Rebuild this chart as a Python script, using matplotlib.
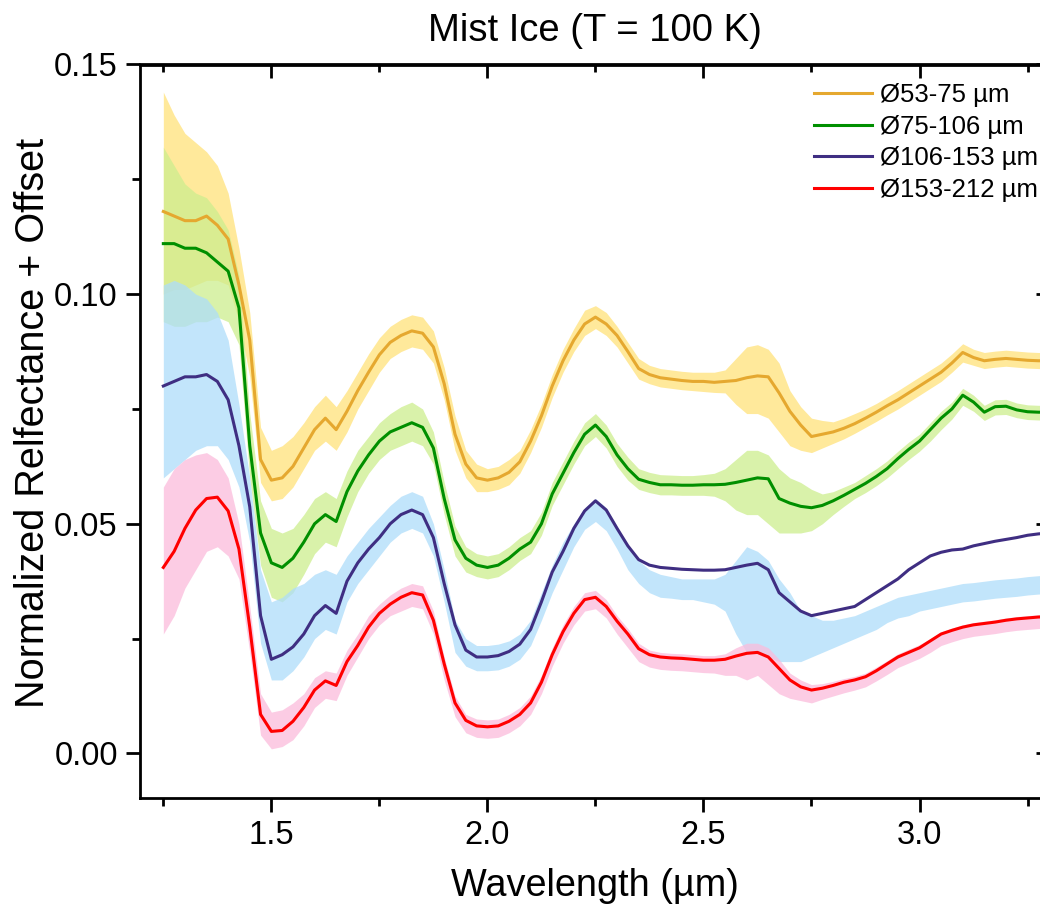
import numpy as np
import matplotlib
matplotlib.use("Agg")
import matplotlib.pyplot as plt
from matplotlib.ticker import MultipleLocator, FixedLocator

plt.rcParams['font.family'] = ['Liberation Sans', 'DejaVu Sans']

# Wavelength grid (µm)
wavelength = np.round(np.arange(1.25, 3.3001, 0.025), 3)

labels = ["Ø53-75 µm", "Ø75-106 µm", "Ø106-153 µm", "Ø153-212 µm"]

# Smoothed spectra (normalized reflectance + offset)
refl_53_75 = [
    0.118, 0.117, 0.116, 0.116, 0.117, 0.115, 0.112, 0.102, 0.090, 0.064,
    0.0595, 0.060, 0.0625, 0.0665, 0.0705, 0.073, 0.0705, 0.0745, 0.079, 0.083,
    0.0868, 0.0895, 0.091, 0.092, 0.0915, 0.0885, 0.0805, 0.0695, 0.063, 0.060,
    0.0595, 0.060, 0.0612, 0.0635, 0.068, 0.0735, 0.080, 0.0855, 0.090, 0.0935,
    0.095, 0.0935, 0.091, 0.0875, 0.0838, 0.0825, 0.0818, 0.0815, 0.0812, 0.081,
    0.081, 0.0808, 0.081, 0.0812, 0.0818, 0.0822, 0.082, 0.0785, 0.0745, 0.0715,
    0.069, 0.0695, 0.070, 0.0708, 0.0718, 0.073, 0.0743, 0.0757, 0.077, 0.0785,
    0.080, 0.0815, 0.083, 0.085, 0.0873, 0.0862, 0.0855, 0.0858, 0.086, 0.0858,
    0.0856, 0.0855, 0.0855]
refl_75_106 = [
    0.111, 0.111, 0.110, 0.110, 0.109, 0.107, 0.105, 0.097, 0.067, 0.048,
    0.0415, 0.0405, 0.0425, 0.046, 0.050, 0.052, 0.0505, 0.057, 0.0615, 0.065,
    0.068, 0.070, 0.071, 0.072, 0.071, 0.0665, 0.0555, 0.0465, 0.0425, 0.041,
    0.0405, 0.041, 0.0425, 0.0445, 0.046, 0.050, 0.0565, 0.061, 0.0655, 0.0695,
    0.0715, 0.069, 0.065, 0.062, 0.0597, 0.059, 0.0585, 0.0585, 0.0584, 0.0584,
    0.0585, 0.0585, 0.0586, 0.059, 0.0595, 0.060, 0.0598, 0.0555, 0.0545, 0.0538,
    0.0535, 0.054, 0.055, 0.0562, 0.0575, 0.0588, 0.0603, 0.062, 0.0642, 0.0662,
    0.068, 0.0705, 0.073, 0.075, 0.078, 0.0765, 0.0743, 0.0755, 0.0756, 0.0748,
    0.0744, 0.0743, 0.0743]
refl_106_153 = [
    0.080, 0.081, 0.082, 0.082, 0.0825, 0.081, 0.077, 0.067, 0.0537, 0.030,
    0.0205, 0.0215, 0.0232, 0.026, 0.030, 0.0322, 0.0305, 0.0375, 0.0415, 0.0445,
    0.047, 0.050, 0.052, 0.053, 0.052, 0.047, 0.037, 0.028, 0.0225, 0.021,
    0.021, 0.0213, 0.0222, 0.0238, 0.027, 0.033, 0.0395, 0.044, 0.049, 0.0528,
    0.055, 0.053, 0.049, 0.0452, 0.0422, 0.041, 0.0405, 0.0403, 0.0401, 0.040,
    0.0399, 0.0399, 0.040, 0.0405, 0.041, 0.0414, 0.040, 0.035, 0.033, 0.031,
    0.030, 0.0305, 0.031, 0.0315, 0.032, 0.0335, 0.035, 0.0365, 0.038, 0.040,
    0.0415, 0.043, 0.0438, 0.0443, 0.0445, 0.0452, 0.0457, 0.0462, 0.0466, 0.047,
    0.0475, 0.0478, 0.048]
refl_153_212 = [
    0.0405, 0.044, 0.049, 0.053, 0.0555, 0.0558, 0.0528, 0.0445, 0.0275, 0.0085,
    0.0048, 0.005, 0.007, 0.010, 0.0138, 0.0158, 0.0148, 0.020, 0.0235, 0.0275,
    0.0305, 0.0325, 0.034, 0.035, 0.0345, 0.029, 0.0195, 0.011, 0.0072, 0.006,
    0.0058, 0.006, 0.007, 0.0085, 0.011, 0.0155, 0.0215, 0.0265, 0.0305, 0.0335,
    0.034, 0.032, 0.0288, 0.026, 0.0228, 0.0215, 0.021, 0.0208, 0.0207, 0.0205,
    0.0203, 0.0203, 0.0205, 0.0212, 0.0218, 0.022, 0.021, 0.0185, 0.016, 0.0145,
    0.0138, 0.0142, 0.0148, 0.0155, 0.016, 0.0167, 0.018, 0.0195, 0.021, 0.022,
    0.023, 0.0245, 0.026, 0.0268, 0.0275, 0.028, 0.0283, 0.0286, 0.029, 0.0293,
    0.0295, 0.0297, 0.0298]

# Raw-spectrum envelopes (lower / upper)
raw_lo_53_75 = [
    0.100, 0.101, 0.101, 0.102, 0.103, 0.103, 0.102, 0.094, 0.082, 0.059,
    0.055, 0.0555, 0.058, 0.062, 0.066, 0.068, 0.066, 0.070, 0.075, 0.079,
    0.083, 0.086, 0.0875, 0.0885, 0.088, 0.085, 0.077, 0.066, 0.060, 0.057,
    0.057, 0.0575, 0.0585, 0.061, 0.0655, 0.071, 0.0775, 0.083, 0.0875, 0.091,
    0.0925, 0.091, 0.0885, 0.085, 0.0815, 0.0805, 0.0798, 0.0795, 0.0792, 0.079,
    0.0788, 0.0786, 0.0785, 0.076, 0.074, 0.074, 0.073, 0.070, 0.067, 0.066,
    0.0655, 0.0665, 0.0675, 0.0685, 0.0697, 0.071, 0.0723, 0.0737, 0.075, 0.0765,
    0.078, 0.0795, 0.081, 0.083, 0.0852, 0.0845, 0.0838, 0.0841, 0.0843, 0.0841,
    0.0839, 0.0838, 0.0838]
raw_hi_53_75 = [
    0.144, 0.139, 0.135, 0.133, 0.131, 0.128, 0.122, 0.110, 0.096, 0.071,
    0.066, 0.067, 0.069, 0.072, 0.0755, 0.078, 0.0755, 0.079, 0.083, 0.087,
    0.0905, 0.093, 0.0945, 0.0955, 0.095, 0.092, 0.084, 0.0735, 0.066, 0.063,
    0.062, 0.0625, 0.064, 0.066, 0.0705, 0.076, 0.0825, 0.088, 0.0925, 0.0965,
    0.0975, 0.096, 0.093, 0.0895, 0.086, 0.0845, 0.0838, 0.0835, 0.0832, 0.083,
    0.083, 0.083, 0.0835, 0.086, 0.0885, 0.089, 0.088, 0.085, 0.079, 0.0755,
    0.073, 0.0725, 0.0722, 0.073, 0.074, 0.075, 0.0762, 0.0776, 0.079, 0.0805,
    0.082, 0.0835, 0.085, 0.087, 0.0892, 0.088, 0.0873, 0.0876, 0.0878, 0.0876,
    0.0874, 0.0873, 0.0873]
raw_lo_75_106 = [
    0.094, 0.093, 0.093, 0.094, 0.094, 0.095, 0.094, 0.089, 0.060, 0.041,
    0.034, 0.033, 0.035, 0.039, 0.0435, 0.046, 0.045, 0.0515, 0.057, 0.061,
    0.064, 0.066, 0.067, 0.068, 0.067, 0.063, 0.052, 0.043, 0.0395, 0.0385,
    0.038, 0.0385, 0.040, 0.042, 0.0435, 0.0475, 0.054, 0.0585, 0.063, 0.067,
    0.069, 0.0665, 0.0625, 0.0595, 0.0575, 0.0568, 0.0563, 0.0563, 0.0562, 0.0562,
    0.0562, 0.056, 0.055, 0.053, 0.052, 0.052, 0.050, 0.048, 0.048, 0.048,
    0.0485, 0.050, 0.052, 0.0538, 0.0555, 0.0568, 0.0583, 0.060, 0.062, 0.064,
    0.0658, 0.068, 0.0705, 0.0728, 0.0758, 0.0745, 0.0725, 0.0737, 0.0738, 0.0731,
    0.0727, 0.0726, 0.0726]
raw_hi_75_106 = [
    0.132, 0.128, 0.124, 0.122, 0.121, 0.118, 0.114, 0.104, 0.074, 0.055,
    0.049, 0.048, 0.049, 0.052, 0.0555, 0.057, 0.0555, 0.0615, 0.066, 0.069,
    0.072, 0.074, 0.0755, 0.0765, 0.075, 0.070, 0.059, 0.0495, 0.045, 0.0435,
    0.043, 0.0435, 0.045, 0.047, 0.0485, 0.0525, 0.059, 0.0635, 0.068, 0.072,
    0.074, 0.0715, 0.0675, 0.0645, 0.062, 0.0612, 0.0607, 0.0606, 0.0605, 0.0605,
    0.0607, 0.061, 0.062, 0.064, 0.066, 0.066, 0.065, 0.062, 0.060, 0.059,
    0.0575, 0.0565, 0.057, 0.058, 0.059, 0.0605, 0.062, 0.0637, 0.0658, 0.0678,
    0.0695, 0.072, 0.0745, 0.0765, 0.0795, 0.078, 0.0758, 0.077, 0.0771, 0.0763,
    0.0759, 0.0758, 0.0758]
raw_lo_106_153 = [
    0.060, 0.062, 0.064, 0.066, 0.067, 0.067, 0.064, 0.058, 0.046, 0.024,
    0.016, 0.016, 0.018, 0.021, 0.025, 0.027, 0.026, 0.033, 0.037, 0.040,
    0.043, 0.046, 0.048, 0.049, 0.048, 0.043, 0.033, 0.022, 0.019, 0.018,
    0.018, 0.0182, 0.019, 0.0205, 0.0235, 0.029, 0.035, 0.040, 0.045, 0.0488,
    0.0505, 0.0485, 0.0445, 0.040, 0.037, 0.035, 0.034, 0.0338, 0.0335, 0.0335,
    0.033, 0.0325, 0.031, 0.026, 0.022, 0.022, 0.021, 0.020, 0.020, 0.020,
    0.021, 0.022, 0.023, 0.024, 0.025, 0.026, 0.027, 0.0285, 0.0295, 0.030,
    0.031, 0.0315, 0.032, 0.0325, 0.033, 0.0332, 0.0335, 0.0338, 0.034, 0.0342,
    0.0345, 0.0347, 0.0348]
raw_hi_106_153 = [
    0.102, 0.103, 0.102, 0.100, 0.099, 0.096, 0.090, 0.076, 0.060, 0.040,
    0.033, 0.034, 0.036, 0.037, 0.039, 0.040, 0.039, 0.043, 0.046, 0.049,
    0.0515, 0.054, 0.056, 0.057, 0.056, 0.050, 0.040, 0.029, 0.025, 0.0235,
    0.0235, 0.0238, 0.0245, 0.026, 0.029, 0.035, 0.041, 0.046, 0.050, 0.0535,
    0.0555, 0.0535, 0.0495, 0.0455, 0.042, 0.040, 0.039, 0.0385, 0.038, 0.038,
    0.038, 0.038, 0.039, 0.042, 0.045, 0.044, 0.042, 0.038, 0.035, 0.031,
    0.030, 0.029, 0.029, 0.0295, 0.030, 0.031, 0.032, 0.033, 0.034, 0.0345,
    0.035, 0.0355, 0.036, 0.0365, 0.037, 0.0372, 0.0375, 0.0378, 0.038, 0.0382,
    0.0385, 0.0387, 0.0388]
raw_lo_153_212 = [
    0.026, 0.030, 0.036, 0.040, 0.044, 0.045, 0.043, 0.038, 0.022, 0.004,
    0.001, 0.0015, 0.003, 0.006, 0.010, 0.012, 0.0115, 0.017, 0.021, 0.025,
    0.028, 0.030, 0.031, 0.032, 0.0315, 0.026, 0.016, 0.008, 0.0045, 0.0035,
    0.0033, 0.0035, 0.0045, 0.006, 0.0085, 0.013, 0.019, 0.024, 0.028, 0.031,
    0.0315, 0.0295, 0.026, 0.023, 0.020, 0.0188, 0.0183, 0.0181, 0.018, 0.0178,
    0.0176, 0.0175, 0.017, 0.017, 0.016, 0.017, 0.015, 0.013, 0.012, 0.0115,
    0.011, 0.0118, 0.0125, 0.0132, 0.0138, 0.0145, 0.0158, 0.0172, 0.0187, 0.0197,
    0.0207, 0.022, 0.0235, 0.0243, 0.025, 0.0255, 0.0258, 0.0261, 0.0265, 0.0268,
    0.027, 0.0272, 0.0273]
raw_hi_153_212 = [
    0.058, 0.062, 0.064, 0.065, 0.0655, 0.064, 0.060, 0.050, 0.032, 0.013,
    0.009, 0.0095, 0.011, 0.013, 0.0165, 0.018, 0.0175, 0.0225, 0.026, 0.030,
    0.0325, 0.0345, 0.036, 0.037, 0.0365, 0.031, 0.021, 0.0125, 0.0085, 0.0075,
    0.0073, 0.0075, 0.0085, 0.010, 0.0125, 0.017, 0.023, 0.028, 0.032, 0.035,
    0.0355, 0.0335, 0.030, 0.0272, 0.024, 0.0225, 0.022, 0.0218, 0.0217, 0.0215,
    0.0213, 0.0213, 0.0217, 0.023, 0.024, 0.024, 0.023, 0.0205, 0.0175, 0.016,
    0.015, 0.0152, 0.0157, 0.0163, 0.0168, 0.0175, 0.0188, 0.0202, 0.0217, 0.0227,
    0.0237, 0.025, 0.0265, 0.0273, 0.028, 0.0285, 0.0288, 0.0291, 0.0295, 0.0298,
    0.030, 0.0302, 0.0303]

smooth = [refl_53_75, refl_75_106, refl_106_153, refl_153_212]
raw_lo = [raw_lo_53_75, raw_lo_75_106, raw_lo_106_153, raw_lo_153_212]
raw_hi = [raw_hi_53_75, raw_hi_75_106, raw_hi_106_153, raw_hi_153_212]

line_colors = ["#E5A82F", "#008F00", "#3F2E82", "#FF0000"]
band_colors = ["#FFE27A", "#CDEE8E", "#AEDDFA", "#FBBCDC"]

fig = plt.figure(figsize=(10.4, 9.15), dpi=100)
W, H = 1040, 915
ax = fig.add_axes([140 / W, 1 - 798 / H, 910 / W, (798 - 64.5) / H])

for lo, hi, c in zip(raw_lo, raw_hi, band_colors):
    ax.fill_between(wavelength, lo, hi, color=c, alpha=0.75, lw=0, zorder=1)

for y, c, lab in zip(smooth, line_colors, labels):
    ax.plot(wavelength, y, color=c, lw=2.2, label=lab, zorder=3)

ax.set_xlim(1.196, 3.302)
ax.set_ylim(-0.0097, 0.15)

ax.xaxis.set_major_locator(FixedLocator([1.5, 2.0, 2.5, 3.0]))
ax.xaxis.set_minor_locator(FixedLocator([1.25, 1.75, 2.25, 2.75, 3.25]))
ax.yaxis.set_major_locator(MultipleLocator(0.05))
ax.yaxis.set_minor_locator(MultipleLocator(0.025))
ax.set_xticklabels(["1.5", "2.0", "2.5", "3.0"])
ax.yaxis.set_major_formatter(plt.FuncFormatter(lambda v, p: f"{v:.2f}"))

for s in ax.spines.values():
    s.set_linewidth(2.0)
ax.tick_params(which='major', direction='out', length=10, width=2.0,
               labelsize=23.5, pad=6)
ax.tick_params(which='minor', direction='out', length=6, width=2.0)

# inward ticks on top and right
top = ax.secondary_xaxis('top')
top.xaxis.set_major_locator(FixedLocator([1.5, 2.0, 2.5, 3.0]))
top.xaxis.set_minor_locator(FixedLocator([1.25, 1.75, 2.25, 2.75, 3.25]))
top.tick_params(which='major', direction='in', length=10, width=2.0, labeltop=False)
top.tick_params(which='minor', direction='in', length=6, width=2.0)
top.spines['top'].set_linewidth(2.0)

right = ax.secondary_yaxis('right')
right.yaxis.set_major_locator(MultipleLocator(0.05))
right.yaxis.set_minor_locator(MultipleLocator(0.025))
right.tick_params(which='major', direction='in', length=10, width=2.0, labelright=False)
right.tick_params(which='minor', direction='in', length=6, width=2.0)
right.spines['right'].set_linewidth(2.0)

ax.set_title("Mist Ice (T = 100 K)", fontsize=27.5, pad=17)
ax.set_xlabel("Wavelength (µm)", fontsize=27.3)
ax.set_ylabel("Normalized Relfectance + Offset", fontsize=28.5)
ax.xaxis.set_label_coords(0.5, -0.095)
ax.yaxis.set_label_coords(-0.097, 0.512)

leg = ax.legend(loc='upper left', bbox_to_anchor=(0.7407, 0.975), frameon=False,
                fontsize=18.5, handlelength=2.25, handletextpad=0.3,
                labelspacing=0.3, borderpad=0, borderaxespad=0)

fig.savefig("out.png", dpi=100)
